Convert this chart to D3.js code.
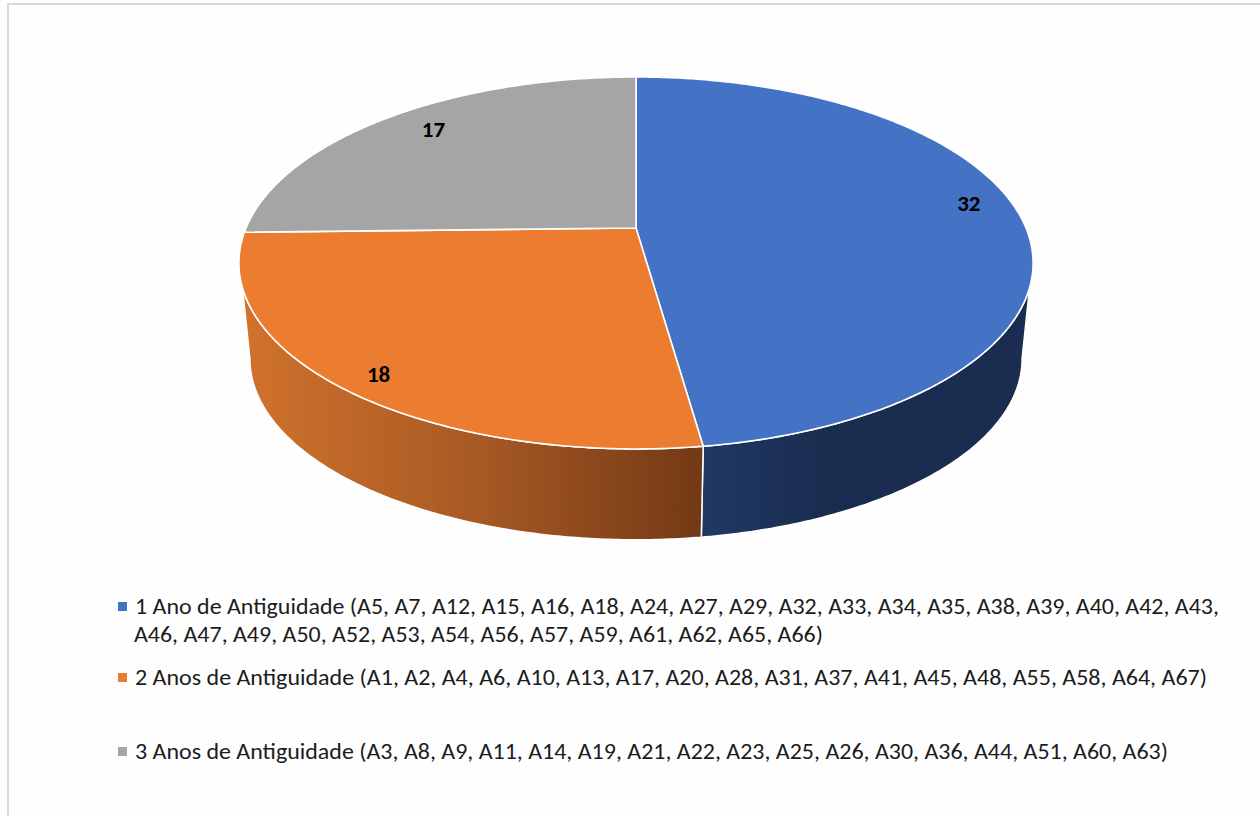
<!DOCTYPE html>
<html><head><meta charset="utf-8">
<script src="https://cdn.jsdelivr.net/npm/d3@7/dist/d3.min.js"></script>
<style>html,body{margin:0;padding:0;background:#fefefe;overflow:hidden}svg{display:block}text{font-family:Carlito,Lato,"Open Sans",sans-serif}</style>
</head><body><svg id="c" width="1260" height="816"></svg>
<script>
const categories = ["1 Ano de Antiguidade","2 Anos de Antiguidade","3 Anos de Antiguidade"];
const values = [32,18,17];
const colors = ["#4472C4","#EC7C30","#A5A5A5"];
const legendLines = [
 ["1 Ano de Antiguidade (A5, A7, A12, A15, A16, A18, A24, A27, A29, A32, A33, A34, A35, A38, A39, A40, A42, A43,",
  "A46, A47, A49, A50, A52, A53, A54, A56, A57, A59, A61, A62, A65, A66)"],
 ["2 Anos de Antiguidade (A1, A2, A4, A6, A10, A13, A17, A20, A28, A31, A37, A41, A45, A48, A55, A58, A64, A67)"],
 ["3 Anos de Antiguidade (A3, A8, A9, A11, A14, A19, A21, A22, A23, A25, A26, A30, A36, A44, A51, A60, A63)"]
];

const svg = d3.select("#c");
svg.append("rect").attr("x",8).attr("y",4).attr("width",1300).attr("height",900)
   .attr("fill","#fefefe").attr("stroke","#d9d9d9").attr("stroke-width",2);

const defs = svg.append("defs");
function grad(id,x1,x2,stops){
  const g = defs.append("linearGradient").attr("id",id).attr("gradientUnits","userSpaceOnUse")
    .attr("x1",x1).attr("x2",x2).attr("y1",0).attr("y2",0);
  stops.forEach(s=>g.append("stop").attr("offset",s[0]).attr("stop-color",s[1]));
}
grad("side0",703,830,[[0,"#203864"],[1,"#1a2c4f"]]);
grad("side1",246,702,[[0,"#d0722c"],[0.5,"#a85a24"],[1,"#733915"]]);

// perspective projection of the unit disc
const k = 0.188, a = 390, b = 179.4;
const apexX = 636, apexY = 228;
function project(theta,r){
  const u = r*Math.sin(theta), v = -r*Math.cos(theta), w = 1-k*v;
  return [a*u/w, b*v/w];
}
const top3d = (t,r=1)=>{const p=project(t,r);return [apexX+p[0],apexY+p[1]];};
const scaleB = 386/397, cyB = 359, yOff = 35;
const bot3d = t=>{const p=project(t,1);return [apexX+scaleB*p[0],cyB+scaleB*(p[1]-yOff)];};
const sampleArc = (t0,t1,fn)=>{
  const n = Math.max(2,Math.ceil(Math.abs(t1-t0)/0.01));
  const s = d3.scaleLinear().domain([0,n]).range([t0,t1]);
  return d3.range(n+1).map(i=>fn(s(i)));
};
const line = d3.line();
const pie = d3.pie().sort(null).value(d=>d)(values);
const deg = Math.PI/180;
const topSil = [108.3*deg,251.7*deg];   // where the wall leaves the top rim
const botSil = [100.8*deg,259.2*deg];   // where the wall meets the outline of the lower rim

// walls
[[0,pie[0].endAngle,topSil[0],botSil[0]],[1,pie[1].startAngle,topSil[1],botSil[1]]].forEach(([i,joint,ts,bs])=>{
  const pts = sampleArc(ts,joint,top3d).concat(sampleArc(joint,bs,bot3d));
  svg.append("path").attr("d",line(pts)+"Z").attr("fill",`url(#side${i})`)
     .attr("stroke","#fff").attr("stroke-width",1.5).attr("stroke-linejoin","round");
});

// top slices
pie.forEach((d,i)=>{
  const pts = [[apexX,apexY]].concat(sampleArc(d.startAngle,d.endAngle,top3d));
  svg.append("path").attr("d",line(pts)+"Z").attr("fill",colors[i])
     .attr("stroke","#fff").attr("stroke-width",1.6).attr("stroke-linejoin","round");
});
// data labels
const labelNudge = [[2,-14],[-10,12],[13,-2]];
pie.forEach((d,i)=>{
  const p = top3d((d.startAngle+d.endAngle)/2,0.86);
  svg.append("text").attr("x",p[0]+labelNudge[i][0]).attr("y",p[1]+labelNudge[i][1])
    .attr("text-anchor","middle").attr("dominant-baseline","central")
    .attr("font-size",23).attr("font-weight",700).attr("fill","#000").text(values[i]);
});

// legend
const rowY = [[607,635],[678],[752]];
const rowW = [[1084,689],[1072],[1033]];
categories.forEach((c,i)=>{
  svg.append("rect").attr("x",118).attr("y",rowY[i][0]-5).attr("width",9).attr("height",9).attr("fill",colors[i]);
  legendLines[i].forEach((t,j)=>{
    svg.append("text").attr("x",j? 134:135).attr("y",rowY[i][j])
      .attr("dominant-baseline","central").attr("font-size",21.5).attr("fill","#1c1c1c")
      .attr("textLength",rowW[i][j]).attr("lengthAdjust","spacingAndGlyphs").text(t);
  });
});
</script></body></html>
